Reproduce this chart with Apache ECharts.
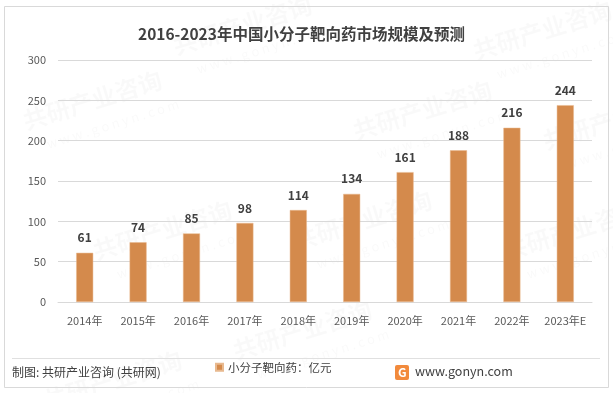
<!DOCTYPE html>
<html><head><meta charset="utf-8">
<script src="https://cdn.jsdelivr.net/npm/echarts@6/dist/echarts.min.js"></script>
<style>html,body{margin:0;padding:0;background:#fff}#c{width:613px;height:393px}</style>
</head><body><div id="c"></div>
<script>
const categories = ['2014年','2015年','2016年','2017年','2018年','2019年','2020年','2021年','2022年','2023年E'];
const values = [61,74,85,98,114,134,161,188,216,244];
const yTicks = {min:0,max:300,interval:50};
const seriesName = '小分子靶向药：亿元';

const chart = echarts.init(document.getElementById('c'), null, {renderer:'canvas'});
const font = '"Microsoft YaHei","Noto Sans CJK SC",sans-serif';
const wm = [];
const wmPos = [[20,110],[170,35],[350,120],[90,240],[290,230],[500,240],[40,390],[230,340],[470,40],[540,130]];
wmPos.forEach(p=>{
  wm.push({type:'text',x:p[0],y:p[1],rotation:0.3,silent:true,z:-1,
    style:{text:'共研产业咨询',font:'bold 24px '+font,fill:'rgba(0,0,0,0.022)'}});
  wm.push({type:'text',x:p[0]+25,y:p[1]+28,rotation:0.3,silent:true,z:-1,
    style:{text:'w w w . g o n y n . c o m',font:'13px '+font,fill:'rgba(0,0,0,0.022)'}});
});
chart.setOption({
  animation:false,
  backgroundColor:'#fff',
  title:{text:'2016-2023年中国小分子靶向药市场规模及预测',left:133,top:21,
    textStyle:{fontSize:15.5,fontWeight:'bold',color:'#404040',fontFamily:font}},
  grid:{left:58,right:21,top:60,bottom:91,containLabel:false},
  legend:{data:[seriesName],bottom:15,left:210,itemWidth:7,itemHeight:7,icon:'rect',itemGap:3,
    textStyle:{fontSize:11.5,color:'#404040',fontFamily:font}},
  xAxis:{type:'category',data:categories,
    axisLine:{lineStyle:{color:'#d9d9d9'}},axisTick:{show:false},
    axisLabel:{interval:0,fontSize:11,color:'#595959',margin:13,fontFamily:font}},
  yAxis:{type:'value',min:yTicks.min,max:yTicks.max,interval:yTicks.interval,
    axisLine:{show:false},axisTick:{show:false},
    splitLine:{lineStyle:{color:'#d9d9d9'}},
    axisLabel:{fontSize:11,color:'#595959',margin:12,fontFamily:font}},
  series:[{name:seriesName,type:'bar',data:values,barWidth:17,
    itemStyle:{color:'#D48A4C',borderColor:'#E8B98F',borderWidth:0.5},
    label:{show:true,position:'top',distance:9,fontSize:12,fontWeight:'bold',color:'#404040',fontFamily:font}}],
  graphic:wm.concat([
    {type:'rect',shape:{x:4.5,y:6.5,width:604,height:381},style:{fill:'none',stroke:'#d9d9d9',lineWidth:1},silent:true},
    {type:'line',shape:{x1:12,y1:358.5,x2:600,y2:358.5},style:{stroke:'#e0e0e0',lineWidth:1},silent:true},
    {type:'text',left:12,top:366,style:{text:'制图: 共研产业咨询 (共研网)',font:'12px '+font,fill:'#404040'}},
    {type:'group',left:395,top:365,children:[
      {type:'rect',shape:{x:0,y:0,width:14,height:15,r:2},style:{fill:'#F28A3C'}},
      {type:'text',x:3,y:1,style:{text:'G',font:'bold 12px '+font,fill:'#fff'}},
      {type:'text',x:20,y:0,style:{text:'www.gonyn.com',font:'12.5px '+font,fill:'#404040'}}
    ]}
  ])
});
</script></body></html>
